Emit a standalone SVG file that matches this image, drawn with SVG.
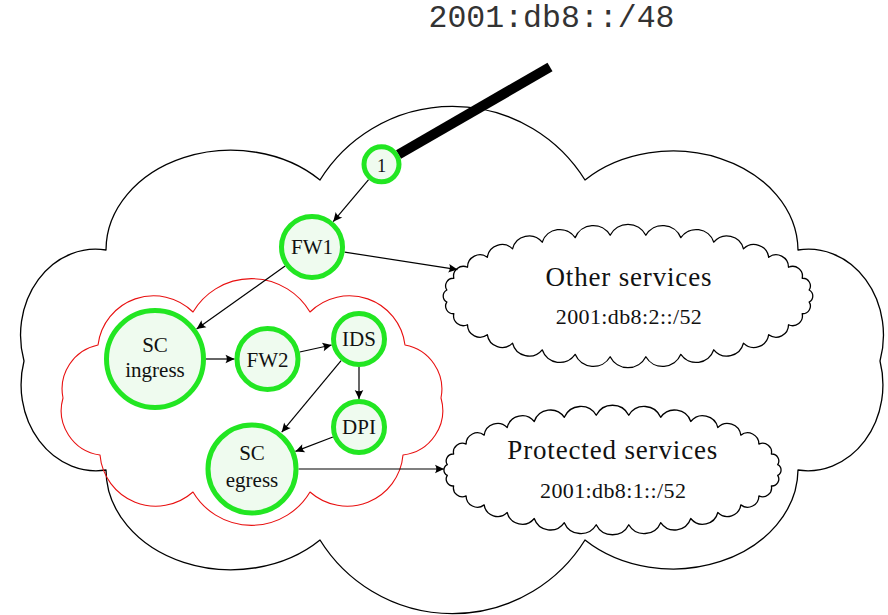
<svg xmlns="http://www.w3.org/2000/svg" width="888" height="615" viewBox="0 0 888 615">
  <defs>
    <style>
      .cloud { fill: none; stroke: #000; stroke-width: 1.3; stroke-linejoin: round; }
      .svc { fill: #fff; stroke: #000; stroke-width: 1.3; stroke-linejoin: round; }
      .zone { fill: none; stroke: #e81010; stroke-width: 1.1; stroke-linejoin: round; }
      .node circle { fill: #effbef; stroke: #22e622; stroke-width: 5; }
      .node text, .label { font-family: "Liberation Serif", "DejaVu Serif", serif; fill: #111; text-anchor: middle; }
      .node text { font-size: 21px; }
      .label { font-size: 27px; }
      .prefix { font-family: "Liberation Serif", "DejaVu Serif", serif; font-size: 22px; fill: #111; text-anchor: middle; }
      .edge { fill: none; stroke: #000; stroke-width: 1.2; marker-end: url(#tip); }
      .uplink { stroke: #000; stroke-width: 10; stroke-linecap: butt; }
      .mono { font-family: "Liberation Mono", "DejaVu Sans Mono", monospace; font-size: 31.5px; fill: #333; }
    </style>
    <marker id="tip" markerUnits="userSpaceOnUse" viewBox="-10 -6 12 12" markerWidth="12" markerHeight="12" refX="0" refY="0" orient="auto" overflow="visible">
      <path d="M0,0 L-9,-4.3 Q-6.3,0 -9,4.3 Z" fill="#000"/>
    </marker>
  </defs>

  <!-- upstream prefix -->
  <text class="mono" x="428.5" y="27" textLength="246" lengthAdjust="spacingAndGlyphs">2001:db8::/48</text>

  <!-- outer network cloud -->
  <path id="network" class="cloud" d="M 106 250 A 125 100 0 0 1 320 180 A 156 156 0 0 1 585 180 A 125 100 0 0 1 798 250 A 75 86 0 0 1 880 361 A 75 86 0 0 1 798 470 A 125 100 0 0 1 585 540 A 156 156 0 0 1 320 540 A 125 100 0 0 1 106 470 A 75 86 0 0 1 24 361 A 75 86 0 0 1 106 250 Z"/>

  <!-- service chain domain -->
  <path id="chain-zone" class="zone" d="M 63 398 A 45 45 0 0 1 98 345 A 56 56 0 0 1 193 312 A 68 68 0 0 1 310 312 A 56 56 0 0 1 405 345 A 45 45 0 0 1 441 398 A 45 45 0 0 1 403 455 A 56 56 0 0 1 310 492 A 68 68 0 0 1 193 492 A 56 56 0 0 1 100 455 A 45 45 0 0 1 63 398 Z"/>

  <!-- service clouds -->
  <g id="other">
    <path class="svc" d="M 446.88 290.02 A 7.6 7.6 0 0 1 453.84 278.29 A 9.8 9.8 0 0 1 467.49 267.24 A 12.4 12.4 0 0 1 487.31 257.30 A 14.9 14.9 0 0 1 512.54 248.85 A 17 17 0 0 1 542.21 242.20 A 18.6 18.6 0 0 1 575.17 237.63 A 19.6 19.6 0 0 1 610.16 235.29 A 20 20 0 0 1 645.84 235.29 A 19.6 19.6 0 0 1 680.83 237.63 A 18.6 18.6 0 0 1 713.79 242.20 A 17 17 0 0 1 743.46 248.85 A 14.9 14.9 0 0 1 768.69 257.30 A 12.4 12.4 0 0 1 788.51 267.24 A 9.8 9.8 0 0 1 802.16 278.29 A 7.6 7.6 0 0 1 809.12 290.02 A 6.7 6.7 0 0 1 809.12 301.98 A 7.6 7.6 0 0 1 802.16 313.71 A 9.8 9.8 0 0 1 788.51 324.76 A 12.4 12.4 0 0 1 768.69 334.70 A 14.9 14.9 0 0 1 743.46 343.15 A 17 17 0 0 1 713.79 349.80 A 18.6 18.6 0 0 1 680.83 354.37 A 19.6 19.6 0 0 1 645.84 356.71 A 20 20 0 0 1 610.16 356.71 A 19.6 19.6 0 0 1 575.17 354.37 A 18.6 18.6 0 0 1 542.21 349.80 A 17 17 0 0 1 512.54 343.15 A 14.9 14.9 0 0 1 487.31 334.70 A 12.4 12.4 0 0 1 467.49 324.76 A 9.8 9.8 0 0 1 453.84 313.71 A 7.6 7.6 0 0 1 446.88 301.98 A 6.7 6.7 0 0 1 446.88 290.02 Z"/>
    <text class="label" x="628.5" y="286" textLength="166" lengthAdjust="spacing">Other services</text>
    <text class="prefix" x="628.8" y="324" textLength="146" lengthAdjust="spacing">2001:db8:2::/52</text>
  </g>

  <g id="protected">
    <path class="svc" d="M 447.30 464.61 A 6.9 6.9 0 0 1 453.65 454.03 A 8.9 8.9 0 0 1 466.10 444.07 A 11.3 11.3 0 0 1 484.18 435.11 A 13.6 13.6 0 0 1 507.19 427.48 A 15.5 15.5 0 0 1 534.25 421.49 A 17 17 0 0 1 564.31 417.37 A 17.9 17.9 0 0 1 596.23 415.27 A 18.2 18.2 0 0 1 628.77 415.27 A 17.9 17.9 0 0 1 660.69 417.37 A 17 17 0 0 1 690.75 421.49 A 15.5 15.5 0 0 1 717.81 427.48 A 13.6 13.6 0 0 1 740.82 435.11 A 11.3 11.3 0 0 1 758.90 444.07 A 8.9 8.9 0 0 1 771.35 454.03 A 6.9 6.9 0 0 1 777.70 464.61 A 6 6 0 0 1 777.70 475.39 A 6.9 6.9 0 0 1 771.35 485.97 A 8.9 8.9 0 0 1 758.90 495.93 A 11.3 11.3 0 0 1 740.82 504.89 A 13.6 13.6 0 0 1 717.81 512.52 A 15.5 15.5 0 0 1 690.75 518.51 A 17 17 0 0 1 660.69 522.63 A 17.9 17.9 0 0 1 628.77 524.73 A 18.2 18.2 0 0 1 596.23 524.73 A 17.9 17.9 0 0 1 564.31 522.63 A 17 17 0 0 1 534.25 518.51 A 15.5 15.5 0 0 1 507.19 512.52 A 13.6 13.6 0 0 1 484.18 504.89 A 11.3 11.3 0 0 1 466.10 495.93 A 8.9 8.9 0 0 1 453.65 485.97 A 6.9 6.9 0 0 1 447.30 475.39 A 6 6 0 0 1 447.30 464.61 Z"/>
    <text class="label" x="612.3" y="459.3" textLength="210" lengthAdjust="spacing">Protected services</text>
    <text class="prefix" x="613" y="497.7" textLength="146" lengthAdjust="spacing">2001:db8:1::/52</text>
  </g>

  <!-- connectors -->
  <g id="edges">
    <line class="uplink" x1="398.5" y1="154.5" x2="550" y2="67"/>
    <line class="edge" x1="368.6" y1="179.6" x2="333.2" y2="221.7"/>
    <line class="edge" x1="344.6" y1="252.1" x2="457.5" y2="269.6"/>
    <line class="edge" x1="285.1" y1="266.1" x2="196.6" y2="329"/>
    <line class="edge" x1="206" y1="359" x2="234.5" y2="359"/>
    <line class="edge" x1="299.7" y1="352" x2="331.6" y2="345"/>
    <line class="edge" x1="359" y1="367" x2="359" y2="399"/>
    <line class="edge" x1="341.1" y1="360.6" x2="281.7" y2="432.2"/>
    <line class="edge" x1="332.9" y1="437" x2="295.4" y2="451.4"/>
    <line class="edge" x1="298.5" y1="469" x2="444" y2="469"/>
  </g>

  <!-- nodes -->
  <g id="n1" class="node">
    <circle cx="381.5" cy="164.3" r="17.5"/>
    <text x="381.5" y="171.5" style="font-size:18.5px">1</text>
  </g>
  <g id="fw1" class="node">
    <circle cx="312" cy="247" r="30.5"/>
    <text x="312" y="254">FW1</text>
  </g>
  <g id="sc-ingress" class="node">
    <circle cx="155" cy="359" r="48.5"/>
    <text x="155" y="351.7">SC</text>
    <text x="155" y="377">ingress</text>
  </g>
  <g id="fw2" class="node">
    <circle cx="267.5" cy="359" r="30.5"/>
    <text x="267.5" y="366.7">FW2</text>
  </g>
  <g id="ids" class="node">
    <circle cx="359" cy="339" r="25.5"/>
    <text x="359" y="346">IDS</text>
  </g>
  <g id="dpi" class="node">
    <circle cx="359" cy="427" r="25.5"/>
    <text x="359" y="434">DPI</text>
  </g>
  <g id="sc-egress" class="node">
    <circle cx="252" cy="469" r="44"/>
    <text x="252" y="460">SC</text>
    <text x="252" y="486.7">egress</text>
  </g>
</svg>
